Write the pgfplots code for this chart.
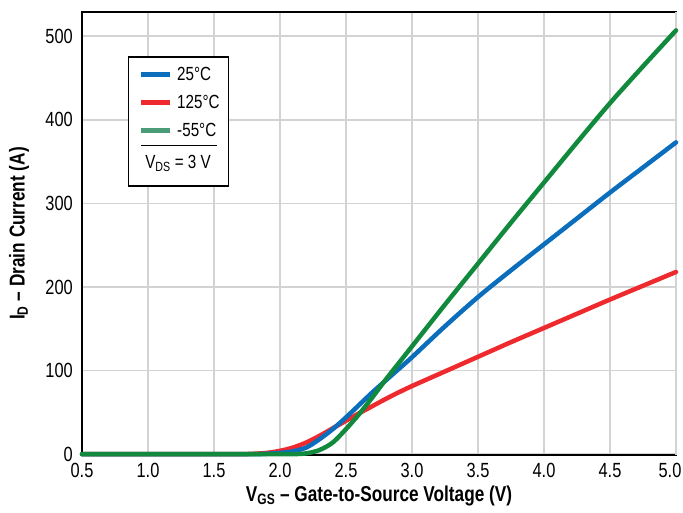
\documentclass[border=0pt]{standalone}
\usepackage{pgfplots}
\pgfplotsset{compat=1.18}
\usepackage{fontspec}
\setmainfont{Liberation Sans}[FakeStretch=0.8]
\definecolor{cblue}{HTML}{0A6EBD}
\definecolor{cred}{HTML}{EE2A2E}
\definecolor{cgreen}{HTML}{128A3E}
\definecolor{lgreen}{HTML}{4A9D78}
\definecolor{gridgray}{HTML}{D3D3D3}
\begin{document}
\begin{tikzpicture}
\begin{axis}[
  scale only axis, width=594pt, height=443pt,
  xmin=0.5, xmax=5.0, ymin=-1, ymax=529,
  xtick={0.5,1,...,4.5}, ytick={0,100,...,500},
  xticklabels={0.5,1.0,1.5,2.0,2.5,3.0,3.5,4.0,4.5},
  extra x ticks={5},
  extra x tick labels={5.0},
  extra x tick style={xticklabel style={xshift=-6pt}},
  ticklabel style={font=\fontsize{20.5}{22}\selectfont, inner sep=0pt},
  xticklabel style={yshift=-8pt},
  yticklabel style={xshift=-9pt},
  /pgf/number format/assume math mode=true,
  major tick length=0pt,
  grid=major, major grid style={gridgray, line width=1.5pt},
  axis line style={line width=2pt},
  clip=false,
  xlabel={V\textsubscript{GS} -- Gate-to-Source Voltage (V)},
  ylabel={I\textsubscript{D} -- Drain Current (A)},
  label style={font=\bfseries\fontsize{21.5}{23}\selectfont},
  xlabel style={at={(axis description cs:0.5,-0.0925)}, anchor=center},
  ylabel style={at={(axis description cs:-0.106,0.5)}, anchor=center},
  every axis plot/.append style={line width=4.5pt, smooth, line cap=round},
]
\addplot[cred] coordinates {
(0.5,0) (1.0,0) (1.5,0) (1.7,0) (1.8,0.5) (1.9,1.5) (2.0,4) (2.1,8) (2.2,14) (2.3,22) (2.4,31) (2.5,40) (2.6,49) (2.7,57.5) (2.8,66) (2.9,74) (3.0,81.5) (3.25,99) (3.5,116.5) (3.75,134) (4.0,151) (4.25,168) (4.5,185) (4.75,201.5) (5.0,218)};
\addplot[cblue] coordinates {
(0.5,0) (1.0,0) (1.5,0) (1.8,0) (1.9,0.5) (2.0,1.5) (2.1,3.5) (2.2,8) (2.3,18) (2.4,30) (2.5,44) (2.6,59) (2.7,74) (2.8,88) (2.9,102) (3.0,116) (3.25,153) (3.5,188) (3.75,220) (4.0,251) (4.25,282) (4.5,313) (4.75,343) (5.0,373)};
\addplot[cgreen] coordinates {
(0.5,0) (1.0,0) (1.5,0) (2.0,0) (2.1,0) (2.2,1) (2.3,5) (2.4,14) (2.5,30) (2.6,48) (2.7,68) (2.8,89) (2.9,109) (3.0,129) (3.25,179) (3.5,228) (3.75,277) (4.0,325) (4.25,373) (4.5,420) (4.75,464) (5.0,507)};
\node[draw=black, line width=1.2pt, fill=white, anchor=north west, minimum width=100pt, minimum height=129pt, inner sep=0pt] (lg) at (rel axis cs:0.0775,0.9) {};
\end{axis}
\draw[cblue, line width=5pt] ([shift={(13pt,-18pt)}]lg.north west) -- ++(29pt,0);
\draw[cred, line width=5pt] ([shift={(13pt,-46pt)}]lg.north west) -- ++(29pt,0);
\draw[lgreen, line width=5pt] ([shift={(13pt,-74pt)}]lg.north west) -- ++(29pt,0);
\node[anchor=west, inner sep=0pt, font=\fontsize{19}{20}\selectfont] at ([shift={(49pt,-18pt)}]lg.north west) {25°C};
\node[anchor=west, inner sep=0pt, font=\fontsize{19}{20}\selectfont] at ([shift={(49pt,-46pt)}]lg.north west) {125°C};
\node[anchor=west, inner sep=0pt, font=\fontsize{19}{20}\selectfont] at ([shift={(49pt,-74pt)}]lg.north west) {-55°C};
\draw[black, line width=1pt] ([shift={(13pt,-89pt)}]lg.north west) -- ++(76pt,0);
\node[anchor=center, inner sep=0pt, font=\fontsize{19}{20}\selectfont] at ([shift={(50pt,-107pt)}]lg.north west) {V\textsubscript{DS} = 3 V};
\pgfresetboundingbox
\path ([shift={(-82pt,-57pt)}]current axis.south west) rectangle ([shift={(7pt,12pt)}]current axis.north east);
\end{tikzpicture}
\end{document}
